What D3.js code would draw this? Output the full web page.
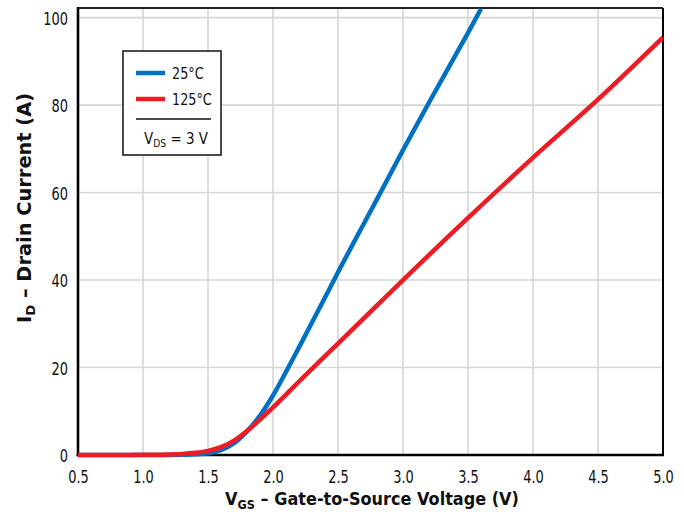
<!DOCTYPE html>
<html><head><meta charset="utf-8">
<script src="https://cdn.jsdelivr.net/npm/d3@7"></script>
<style>
body{margin:0;background:#fff}
text{font-family:"DejaVu Sans",sans-serif;fill:#111}
</style>
</head><body>
<svg id="c" width="684" height="512"></svg>
<script>
// Data
const vgs25 = [0.5, 0.75, 1.0, 1.2, 1.3, 1.4, 1.5, 1.6, 1.7, 1.8, 1.9, 2.0, 2.1, 2.2, 2.4, 2.5, 2.6, 2.8, 3.0, 3.2, 3.4, 3.5, 3.6];
const id25  = [0, 0, 0, 0.02, 0.06, 0.15, 0.4, 1.1, 2.7, 5.4, 9.0, 13.6, 19.0, 24.6, 36.0, 41.8, 47.4, 58.5, 69.7, 80.6, 91.2, 96.5, 102];
const vgs125 = [0.5, 0.75, 1.0, 1.2, 1.3, 1.4, 1.5, 1.6, 1.7, 1.8, 1.9, 2.0, 2.1, 2.2, 2.4, 2.6, 2.8, 3.0, 3.5, 4.0, 4.5, 5.0];
const id125  = [0, 0.01, 0.04, 0.12, 0.25, 0.5, 0.95, 1.8, 3.3, 5.5, 8.1, 10.9, 13.8, 16.8, 22.6, 28.4, 34.2, 40.0, 54.2, 68.0, 81.3, 95.5];
const xTicks = [0.5, 1.0, 1.5, 2.0, 2.5, 3.0, 3.5, 4.0, 4.5, 5.0];
const yTicks = [0, 20, 40, 60, 80, 100];
const seriesNames = ["25°C", "125°C"];
const seriesColors = ["#0070c0", "#ed1c24"];

const svg = d3.select("#c");
const L = 78, R = 663, T = 8, B = 455;
const x = d3.scaleLinear().domain([0.5, 5.0]).range([L, R]);
const y = d3.scaleLinear().domain([0, 102.2]).range([B, T]);
const SX = 0.72; // horizontal compression to mimic a condensed face

// grid
const g = svg.append("g");
g.selectAll("line.vx").data(xTicks.slice(1, -1)).enter().append("line")
  .attr("x1", d => x(d)).attr("x2", d => x(d)).attr("y1", T).attr("y2", B)
  .attr("stroke", "#d6d6d6").attr("stroke-width", 1.6);
g.selectAll("line.hy").data(yTicks.slice(1)).enter().append("line")
  .attr("x1", L).attr("x2", R).attr("y1", d => y(d)).attr("y2", d => y(d))
  .attr("stroke", "#d6d6d6").attr("stroke-width", 1.6);

// axes
const xAxis = d3.axisBottom(x).tickValues(xTicks).tickFormat(d3.format(".1f")).tickSize(0).tickPadding(15);
const yAxis = d3.axisLeft(y).tickValues(yTicks).tickSize(0);
const gx = svg.append("g").attr("transform", `translate(0,${B})`).call(xAxis);
const gy = svg.append("g").attr("transform", `translate(${L},0)`).call(yAxis);
[gx, gy].forEach(a => {
  a.select(".domain").remove();
  a.selectAll("text").style("font-size", "18px").attr("fill", "#111").attr("font-family", "DejaVu Sans");
});
gx.selectAll("text").attr("dy", "0.72em").attr("transform", `scale(${SX},1)`);
gy.selectAll("text").attr("dy", "0.36em").attr("x", -10 / SX).attr("transform", `scale(${SX},1)`);

// frame
svg.append("line").attr("x1", L).attr("x2", R).attr("y1", T).attr("y2", T).attr("stroke", "#222").attr("stroke-width", 1.8);
svg.append("line").attr("x1", R).attr("x2", R).attr("y1", T).attr("y2", B).attr("stroke", "#000").attr("stroke-width", 2);
svg.append("line").attr("x1", L).attr("x2", L).attr("y1", T - 1).attr("y2", B + 1.3).attr("stroke", "#000").attr("stroke-width", 2.6);
svg.append("line").attr("x1", L - 1.3).attr("x2", R + 1).attr("y1", B).attr("y2", B).attr("stroke", "#000").attr("stroke-width", 2.6);

// curves
svg.append("clipPath").attr("id", "clip").append("rect")
  .attr("x", L).attr("y", T).attr("width", R - L).attr("height", B - T + 4);
const line = d3.line().x(d => x(d[0])).y(d => y(d[1])).curve(d3.curveMonotoneX);
const data25 = vgs25.map((v, i) => [v, id25[i]]);
const data125 = vgs125.map((v, i) => [v, id125[i]]);
const cg = svg.append("g").attr("clip-path", "url(#clip)");
cg.append("path").datum(data25).attr("d", line).attr("fill", "none")
  .attr("stroke", seriesColors[0]).attr("stroke-width", 4.5);
cg.append("path").datum(data125).attr("d", line).attr("fill", "none")
  .attr("stroke", seriesColors[1]).attr("stroke-width", 4.5);

// legend
const lg = svg.append("g");
lg.append("rect").attr("x", 123).attr("y", 51).attr("width", 98).attr("height", 104)
  .attr("fill", "#fff").attr("stroke", "#111").attr("stroke-width", 1.5);
seriesNames.forEach((n, i) => {
  const yy = 73 + i * 26;
  lg.append("line").attr("x1", 136).attr("x2", 165).attr("y1", yy).attr("y2", yy)
    .attr("stroke", seriesColors[i]).attr("stroke-width", 4.5);
  lg.append("g").attr("transform", `translate(172,${yy + 6}) scale(0.8,1)`)
    .append("text").style("font-size", "16px").text(n);
});
lg.append("line").attr("x1", 136).attr("x2", 211).attr("y1", 119).attr("y2", 119)
  .attr("stroke", "#111").attr("stroke-width", 1.3);
const vt = lg.append("g").attr("transform", "translate(144,144) scale(0.84,1)")
  .append("text").style("font-size", "16px");
vt.append("tspan").text("V");
vt.append("tspan").attr("dy", 3).style("font-size", "11px").text("DS");
vt.append("tspan").attr("dy", -3).text(" = 3 V");

// axis titles
const xt = svg.append("g").attr("transform", "translate(372,505) scale(0.87,1)")
  .append("text").attr("text-anchor", "middle")
  .style("font-size", "18.5px").style("font-weight", "bold");
xt.append("tspan").text("V");
xt.append("tspan").attr("dy", 3.5).style("font-size", "13px").text("GS");
xt.append("tspan").attr("dy", -3.5).text(" – Gate-to-Source Voltage (V)");

const yt = svg.append("g").attr("transform", "translate(31,208) rotate(-90) scale(1.02,1)")
  .append("text").attr("text-anchor", "middle")
  .style("font-size", "19px").style("font-weight", "bold");
yt.append("tspan").text("I");
yt.append("tspan").attr("dy", 4).style("font-size", "13px").text("D");
yt.append("tspan").attr("dy", -4).text(" – Drain Current (A)");
</script>
</body></html>
